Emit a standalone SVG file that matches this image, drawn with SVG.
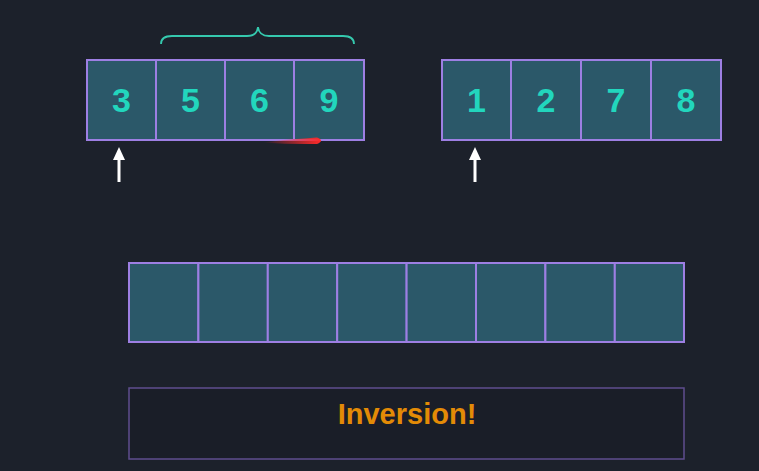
<svg xmlns="http://www.w3.org/2000/svg" width="759" height="471" viewBox="0 0 759 471">
<defs>
<style>
.cell{fill:#2b5869;stroke:#9d7fe3;stroke-width:2}
.num{fill:#22d6bd;font-family:"Liberation Sans",Arial,sans-serif;font-weight:bold;font-size:34px;text-anchor:middle}
.arrow{stroke:#ffffff;stroke-width:3;fill:none}
</style>
<linearGradient id="red" x1="0" x2="1" y1="0" y2="0">
<stop offset="0" stop-color="#ff2a2a" stop-opacity="0"/>
<stop offset="1" stop-color="#ff2a2a" stop-opacity="1"/>
</linearGradient>
</defs>
<rect width="759" height="471" fill="#1c212b"/>
<g id="left-array">
<rect class="cell" x="87" y="60" width="69" height="80"/>
<rect class="cell" x="156" y="60" width="69" height="80"/>
<rect class="cell" x="225" y="60" width="69" height="80"/>
<rect class="cell" x="294" y="60" width="70" height="80"/>
<text class="num" x="121.5" y="112">3</text>
<text class="num" x="190.5" y="112">5</text>
<text class="num" x="259.5" y="112">6</text>
<text class="num" x="329" y="112">9</text>
</g>
<g id="right-array">
<rect class="cell" x="442" y="60" width="69" height="80"/>
<rect class="cell" x="511" y="60" width="70" height="80"/>
<rect class="cell" x="581" y="60" width="70" height="80"/>
<rect class="cell" x="651" y="60" width="70" height="80"/>
<text class="num" x="476.5" y="112">1</text>
<text class="num" x="546" y="112">2</text>
<text class="num" x="616" y="112">7</text>
<text class="num" x="686" y="112">8</text>
</g>
<g id="merged-array">
<rect class="cell" x="129" y="263" width="69.4" height="79"/>
<rect class="cell" x="198.4" y="263" width="69.4" height="79"/>
<rect class="cell" x="267.8" y="263" width="69.4" height="79"/>
<rect class="cell" x="337.2" y="263" width="69.4" height="79"/>
<rect class="cell" x="406.6" y="263" width="69.4" height="79"/>
<rect class="cell" x="476" y="263" width="69.4" height="79"/>
<rect class="cell" x="545.4" y="263" width="69.4" height="79"/>
<rect class="cell" x="614.8" y="263" width="69.2" height="79"/>
</g>
<g id="brace">
<path d="M161,44 Q161,36 172,36 L247,36 Q257,36 258,27 Q259,36 269,36 L343,36 Q354,36 354,44" fill="none" stroke="#35c9ae" stroke-width="1.8"/>
</g>
<g id="connectors">
<line class="arrow" x1="119" y1="182" x2="119" y2="156"/>
<polygon points="119,147 113,160 125,160" fill="#ffffff"/>
<line class="arrow" x1="475" y1="182" x2="475" y2="156"/>
<polygon points="475,147 469,160 481,160" fill="#ffffff"/>
</g>
<g id="red-mark">
<path d="M263,142.5 Q290,139 317,137.5 Q325,140.5 317,144 Q290,144.5 263,142.5 Z" fill="url(#red)"/>
</g>
<g id="inversion-box">
<rect x="129" y="388" width="555" height="71" fill="#1a1e28" stroke="#5f4e8f" stroke-width="1.5"/>
<text x="407" y="424" fill="#e38b06" font-family="'Liberation Sans',Arial,sans-serif" font-weight="bold" font-size="29" text-anchor="middle">Inversion!</text>
</g>
</svg>
